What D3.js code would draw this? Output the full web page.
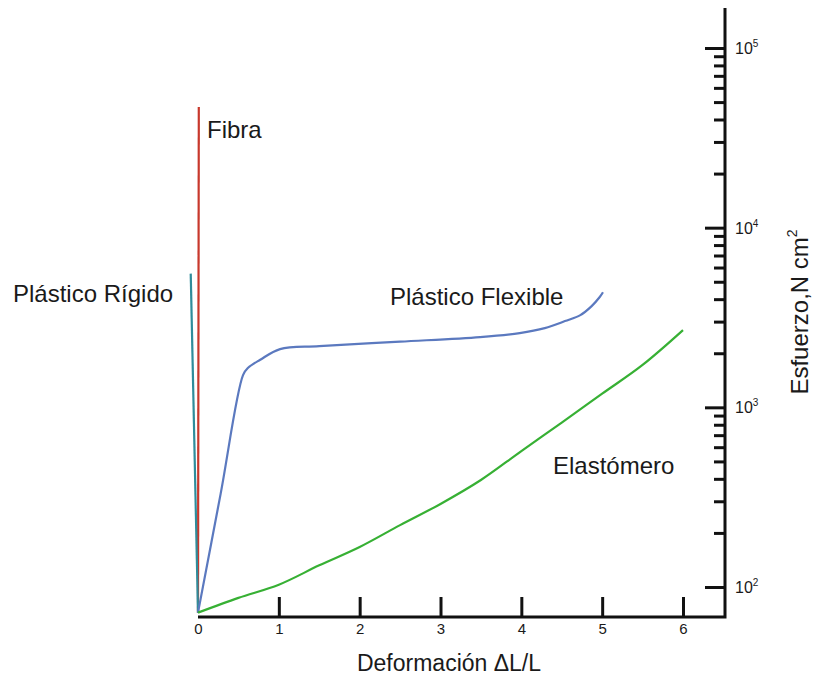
<!DOCTYPE html>
<html>
<head>
<meta charset="utf-8">
<script src="https://cdn.jsdelivr.net/npm/d3@7"></script>
<style>
    body { margin: 0; background: #fff; }
    text { font-family: Arial, "Liberation Sans", sans-serif; fill: #1a1a1a; }
</style>
</head>
<body>
<svg id="chart" width="815" height="675"></svg>
<script>
// strain (dL/L) vs stress (N/cm2)
var strainTicks = [0, 1, 2, 3, 4, 5, 6];
var stressDecades = [1e2, 1e3, 1e4, 1e5];
var stressMinor = [2, 3, 4, 5, 6, 7, 8, 9];

var fibra = [[0, 72], [0.01, 47000]];
var rigido = [[0, 72], [-0.09, 5550]];
var flexible = [
    [0, 72], [0.28, 330], [0.557, 1510], [0.62, 1660], [0.77, 1840],
    [1.015, 2110], [1.5, 2190], [2.5, 2320], [3.49, 2460], [3.98, 2590],
    [4.29, 2760], [4.54, 3020], [4.73, 3260], [4.87, 3660], [4.97, 4110], [5.01, 4370]
];
var elastomero = [
    [0, 72], [0.5, 87], [1, 103], [1.5, 132], [2, 167], [2.5, 221],
    [3, 290], [3.5, 394], [4, 571], [4.5, 822], [5, 1191], [5.5, 1722], [6, 2690]
];

var series = [
    { name: "Fibra", data: fibra, color: "#c8382c", curve: d3.curveLinear },
    { name: "Plástico Rígido", data: rigido, color: "#2f8c9b", curve: d3.curveLinear },
    { name: "Plástico Flexible", data: flexible, color: "#5b79bf", curve: d3.curveCatmullRom.alpha(0.5) },
    { name: "Elastómero", data: elastomero, color: "#37b034", curve: d3.curveCatmullRom.alpha(0.5) }
];

var svg = d3.select("svg#chart");

var axisX = 725,
    axisY = 617,
    axisTop = 8;

var x = d3.scaleLinear().domain([0, 6]).range([198, 683]);
var y = d3.scaleLog().domain([1e2, 1e5]).range([587, 48]);

// axis lines
svg.append("path")
    .attr("d", "M" + x(0) + "," + axisY + "H" + axisX + "V" + axisTop)
    .attr("fill", "none")
    .attr("stroke", "#111")
    .attr("stroke-width", 3);

// bottom ticks, pointing up
var gx = svg.append("g")
    .attr("transform", "translate(0," + axisY + ")")
    .call(d3.axisBottom(x).tickValues(strainTicks).tickSize(-20).tickPadding(6).tickFormat(d3.format("d")));
gx.select(".domain").remove();
gx.selectAll(".tick line").attr("stroke", "#111").attr("stroke-width", 3);
gx.selectAll(".tick").filter(d => d === 0).select("line").remove();
gx.selectAll(".tick text")
    .style("font-size", "15px")
    .attr("fill", "#222");

// right axis: minor and major ticks on the left side
var minorVals = [];
stressDecades.slice(0, 3).forEach(function(d) {
    stressMinor.forEach(function(m) { minorVals.push(d * m); });
});

var gMinor = svg.append("g")
    .attr("transform", "translate(" + axisX + ",0)")
    .call(d3.axisLeft(y).tickValues(minorVals).tickSize(11).tickFormat(""));
gMinor.select(".domain").remove();
gMinor.selectAll(".tick line").attr("stroke", "#111").attr("stroke-width", 3);

var gMajor = svg.append("g")
    .attr("transform", "translate(" + axisX + ",0)")
    .call(d3.axisLeft(y).tickValues(stressDecades).tickSize(20).tickFormat(""));
gMajor.select(".domain").remove();
gMajor.selectAll(".tick line").attr("stroke", "#111").attr("stroke-width", 3);

var yLabels = svg.append("g")
    .selectAll("text")
    .data(stressDecades)
    .enter()
    .append("text")
    .attr("x", axisX + 10)
    .attr("y", d => y(d) + 6)
    .style("font-size", "16px")
    .attr("fill", "#222");
yLabels.append("tspan").text("10");
yLabels.append("tspan")
    .style("font-size", "10px")
    .attr("dy", -7)
    .text(d => Math.round(Math.log10(d)));

// curves
var line = d3.line()
    .x(d => x(d[0]))
    .y(d => y(d[1]));

svg.append("g")
    .selectAll("path")
    .data(series)
    .enter()
    .append("path")
    .attr("fill", "none")
    .attr("stroke", d => d.color)
    .attr("stroke-width", 2.2)
    .attr("d", d => line.curve(d.curve)(d.data));

// curve labels
var labels = [
    { text: "Fibra", x: 207, y: 138 },
    { text: "Plástico Rígido", x: 13, y: 302 },
    { text: "Plástico Flexible", x: 390, y: 305 },
    { text: "Elastómero", x: 553, y: 474 }
];
svg.append("g")
    .selectAll("text")
    .data(labels)
    .enter()
    .append("text")
    .attr("x", d => d.x)
    .attr("y", d => d.y)
    .attr("font-size", "24px")
    .text(d => d.text);

// axis titles
svg.append("text")
    .attr("x", 449)
    .attr("y", 671)
    .attr("text-anchor", "middle")
    .attr("font-size", "23px")
    .text("Deformación ΔL/L");

var yTitle = svg.append("text")
    .attr("transform", "translate(808,312) rotate(-90)")
    .attr("text-anchor", "middle")
    .attr("font-size", "24px");
yTitle.append("tspan").text("Esfuerzo,N cm");
yTitle.append("tspan").attr("font-size", "14px").attr("dy", -11).text("2");
</script>
</body>
</html>
